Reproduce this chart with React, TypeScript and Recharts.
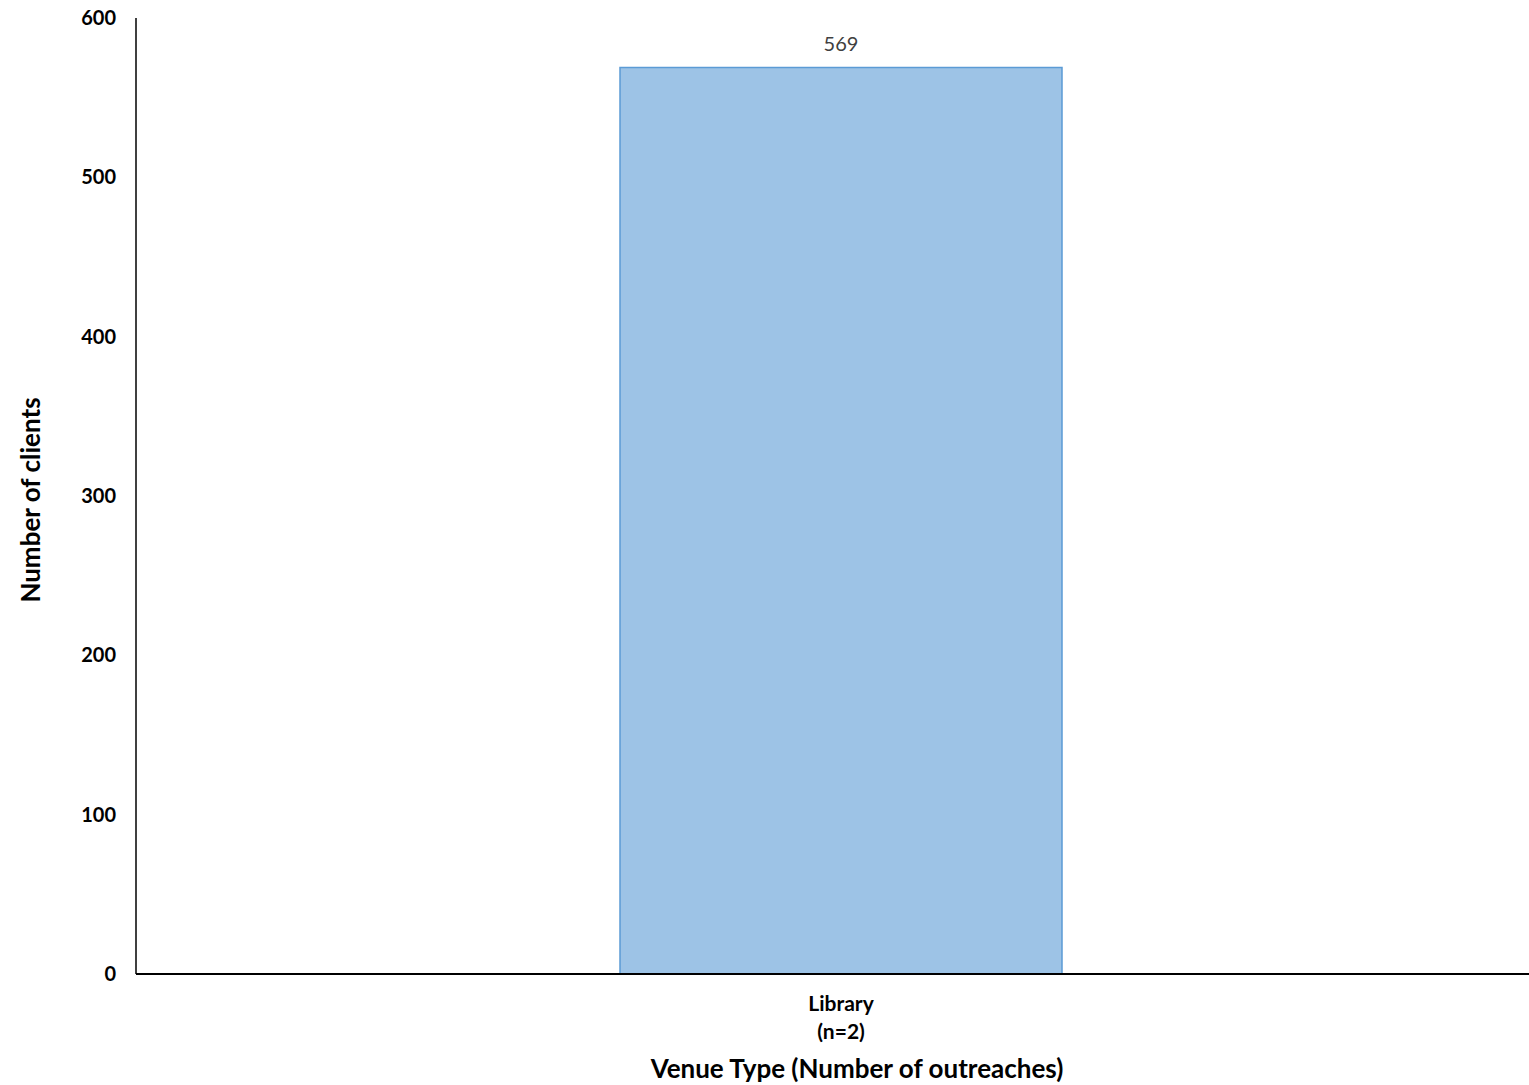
import React from 'react';
import { BarChart, Bar, XAxis, YAxis, LabelList } from 'recharts';

const categories = ['Library'];
const outreachCounts = [2];
const clientCounts = [569];
const yTicks = [0, 100, 200, 300, 400, 500, 600];

const data = categories.map((c, i) => ({ name: c, n: outreachCounts[i], value: clientCounts[i] }));

const FONT = 'Lato, "Open Sans", sans-serif';

const XTick = (props: any) => {
  const { x, y, payload } = props;
  const idx = categories.indexOf(payload.value);
  return (
    <g transform={`translate(${x},${y})`}>
      <text textAnchor="middle" fontFamily={FONT} fontWeight="bold" fontSize={21} fill="#000">
        <tspan x={0} dy={29}>{payload.value}</tspan>
        <tspan x={0} dy={28}>{`(n=${outreachCounts[idx]})`}</tspan>
      </text>
    </g>
  );
};

export default function App() {
  return (
    <div style={{ position: 'fixed', left: 0, top: 0, width: 1529, height: 1085, overflow: 'hidden', background: '#fff' }}>
      <BarChart width={1546} height={1085} data={data} margin={{ top: 18, right: 0, left: 0, bottom: 0 }}>
        <XAxis
          dataKey="name"
          height={111}
          axisLine={{ stroke: '#000', strokeWidth: 2 }}
          tickLine={false}
          tick={<XTick />}
          interval={0}
        />
        <YAxis
          width={136}
          domain={[0, 600]}
          ticks={yTicks}
          axisLine={{ stroke: '#000', strokeWidth: 1.5 }}
          tickLine={false}
          tickSize={0}
          tickMargin={20}
          tick={{ fontFamily: FONT, fontWeight: 'bold', fontSize: 20, fill: '#000' }}
        />
        <Bar dataKey="value" fill="#9DC3E6" stroke="#5B9BD5" strokeWidth={1.5} barSize={442} isAnimationActive={false}>
          <LabelList dataKey="value" position="top" offset={16} style={{ fontFamily: FONT, fontSize: 20, fill: '#404040' }} />
        </Bar>
      </BarChart>
      <div style={{ position: 'absolute', left: 0, top: 1052, width: 1714, textAlign: 'center', fontFamily: FONT, fontWeight: 'bold', fontSize: 26, color: '#000', lineHeight: '32px' }}>
        Venue Type (Number of outreaches)
      </div>
      <div style={{ position: 'absolute', left: 30, top: 500, transform: 'translate(-50%, -50%) rotate(-90deg)', whiteSpace: 'nowrap', fontFamily: FONT, fontWeight: 'bold', fontSize: 26, color: '#000' }}>
        Number of clients
      </div>
    </div>
  );
}
